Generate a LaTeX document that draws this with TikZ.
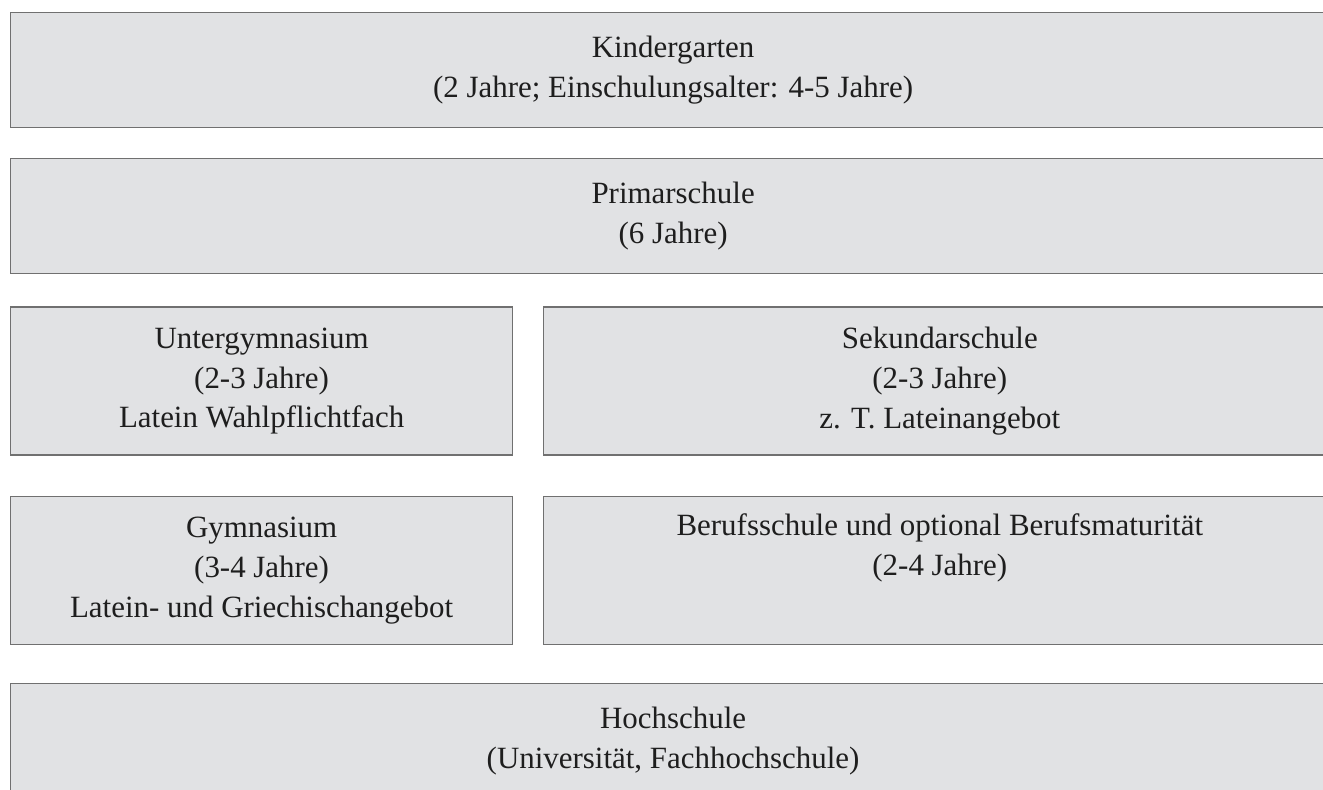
\documentclass[tikz,border=0pt]{standalone}
\usepackage{fontspec}
\setmainfont{Liberation Serif}
\usetikzlibrary{positioning}

\definecolor{boxfill}{HTML}{E1E2E4}
\definecolor{boxline}{HTML}{707070}
\definecolor{boxtext}{HTML}{1E1E1E}

\begin{document}
\begin{tikzpicture}[node distance=6mm,
  stage/.style={draw=boxline, fill=boxfill, line width=0.7pt, rectangle, align=center,
    text=boxtext, font=\fontsize{17.6pt}{22.7pt}\selectfont, inner sep=0pt},
  wide/.style={stage, minimum width=26.5cm, minimum height=2.3cm},
  lhalf/.style={stage, minimum width=10.04cm, minimum height=2.96cm},
  rhalf/.style={stage, minimum width=15.84cm, minimum height=2.96cm}]
  \useasboundingbox (0,0) rectangle (26.46,-15.78);
  \node[wide, anchor=north west] (kiga) at (0.2,-0.24) {Kindergarten\\(2 Jahre; Einschulungsalter: 4-5 Jahre)};
  \node[wide, below=0.6cm of kiga] (prim) {Primarschule\\(6 Jahre)};
  \node[lhalf, below right=0.64cm and 0cm of prim.south west] (untergym) {Untergymnasium\\(2-3 Jahre)\\Latein Wahlpflichtfach};
  \node[rhalf, right=0.6cm of untergym] (sek) {Sekundarschule\\(2-3 Jahre)\\z. T. Lateinangebot};
  \node[lhalf, below=0.8cm of untergym] (gym) {Gymnasium\\(3-4 Jahre)\\Latein- und Griechischangebot};
  \node[rhalf, right=0.6cm of gym] (beruf) {Berufsschule und optional Berufsmaturität\\(2-4 Jahre)\\\strut};
  \node[wide, below right=0.76cm and 0cm of gym.south west] (hoch) {Hochschule\\(Universität, Fachhochschule)};
\end{tikzpicture}
\end{document}
